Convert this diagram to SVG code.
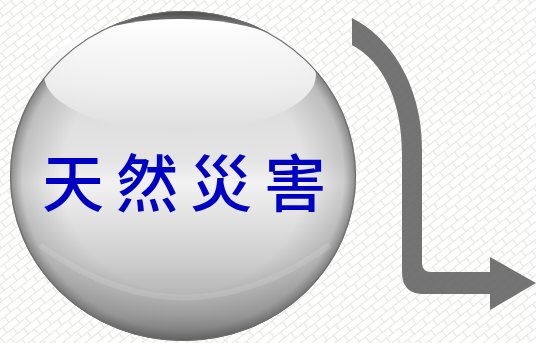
<svg xmlns="http://www.w3.org/2000/svg" width="536" height="343" viewBox="0 0 536 343">
  <defs>
    <pattern id="bricks" width="16" height="14" patternUnits="userSpaceOnUse" patternTransform="rotate(-38)">
      <rect width="16" height="14" fill="#ffffff"/>
      <path d="M0,0.5 H16 M0,7.5 H16 M0.5,0.5 V7.5 M8.5,7.5 V14.5" stroke="#e6e6e1" stroke-width="1.2" fill="none"/>
    </pattern>
    <linearGradient id="sphereBase" x1="0" y1="0" x2="0" y2="1">
      <stop offset="0" stop-color="#444444"/>
      <stop offset="0.025" stop-color="#7a7a7a"/>
      <stop offset="0.08" stop-color="#d4d4d4"/>
      <stop offset="0.45" stop-color="#e4e4e4"/>
      <stop offset="0.52" stop-color="#f2f2f2"/>
      <stop offset="0.75" stop-color="#cfcfcf"/>
      <stop offset="0.92" stop-color="#a8a8a8"/>
      <stop offset="1" stop-color="#7c7c7c"/>
    </linearGradient>
    <radialGradient id="sphereEdge" cx="0.5" cy="0.5" r="0.5">
      <stop offset="0.7" stop-color="#606060" stop-opacity="0"/>
      <stop offset="0.93" stop-color="#606060" stop-opacity="0.25"/>
      <stop offset="1" stop-color="#505050" stop-opacity="0.65"/>
    </radialGradient>
    <linearGradient id="highlight" x1="0" y1="0" x2="0" y2="1">
      <stop offset="0" stop-color="#ffffff" stop-opacity="1"/>
      <stop offset="0.6" stop-color="#f0f0f0" stop-opacity="0.95"/>
      <stop offset="1" stop-color="#dedede" stop-opacity="0.9"/>
    </linearGradient>
  </defs>
  <style>
    .label { font-family: "Noto Sans CJK TC", "Noto Sans CJK SC", sans-serif; font-size: 62px; font-weight: 500; fill: #0000c4; letter-spacing: 12px; }
    .arrow { fill: #616161; fill-opacity: 0.88; }
  </style>

  <rect width="536" height="343" fill="url(#bricks)"/>

  <g id="sphere">
    <ellipse cx="183" cy="176" rx="173" ry="165" fill="url(#sphereBase)"/>
    <ellipse cx="183" cy="176" rx="173" ry="165" fill="url(#sphereEdge)"/>
    <path d="M40,245 Q183,350 330,245" fill="none" stroke="#ffffff" stroke-opacity="0.12" stroke-width="6"/>
    <ellipse cx="180" cy="75" rx="136" ry="56" fill="url(#highlight)"/>
    <ellipse cx="183" cy="176" rx="172.5" ry="164.5" fill="none" stroke="#6e6e6e" stroke-width="1.2"/>
    <text class="label" x="42" y="207">天然災害</text>
  </g>

  <g id="connectors">
    <path class="arrow" d="M352,18 C388,36 422,82 422,150 L422,263 Q422,272 431,272 L490,272 L490,257 L536,283 L490,310 L490,294 L424,294 Q402,294 402,272 L402,155 C402,102 384,62 352,45 Z"/>
  </g>
</svg>
